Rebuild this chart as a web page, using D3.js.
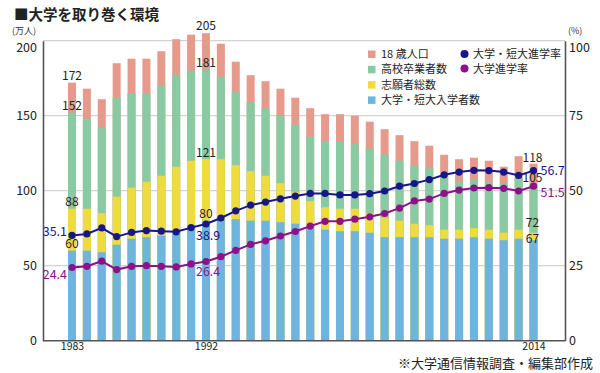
<!DOCTYPE html>
<html>
<head>
<meta charset="utf-8">
<script src="https://cdn.jsdelivr.net/npm/d3@7"></script>
<style>
  body { margin: 0; background: #fff; }
  svg { font-family: "Noto Sans CJK JP", "Noto Sans", sans-serif; }
</style>
</head>
<body>
<svg id="chart" width="600" height="373"></svg>
<script>
// data (万人 / %)
const years = d3.range(1983, 2015);
const pop18 = [172,168,161,185,188,188,193,201,204,205,
               198,186,177,173,168,162,155,151,151,150,146,
               141,137,133,130,124,121,122,120,116,123,118];
const grads = [152,148,142,162,165,165,170,177,180,181,
               176,166,159,155,150,144,136,133,133,131,128,
               124,120,117,115,110,106,107,106,105,109,105];
const applicants = [88,88,85,96,102,106,110,116,120,121,
                    121,117,113,110,105,99,93,89,88,88,85,
                    82,80,78,77,74,74,75,74,72,74,72];
const entrants = [60,60,59,64,68,69,70,73,77,80,
                  81,81,80,80,79,78,77,74,73,73,72,
                  69,69,69,69,68,68,69,68,67,68,67];
const rateUnivJc = [35.1,35.6,37.6,34.7,36.1,36.7,36.5,36.3,37.7,38.9,
                    40.9,43.3,45.2,46.2,47.3,48.2,49.1,49.1,48.6,48.6,49.0,
                    49.9,51.5,52.4,53.7,55.3,56.2,56.8,56.7,56.2,55.1,56.7];
const rateUniv = [24.4,24.8,26.5,23.7,24.8,25.0,24.8,24.6,25.6,26.4,
                  28.0,30.1,32.1,33.3,34.9,36.4,38.2,39.8,39.8,40.5,41.3,
                  42.4,44.2,46.6,47.2,49.1,50.2,50.9,51.0,50.8,49.9,51.5];
const leftTicks = [0, 50, 100, 150, 200];
const rightTicks = [0, 25, 50, 75, 100];
const xLabels = [1983, 1992, 2014];
const labelYears = [1983, 1992, 2014];

const barSeries = [
  { name: "18 歳人口", values: pop18, color: "#e69a8c" },
  { name: "高校卒業者数", values: grads, color: "#88cba2" },
  { name: "志願者総数", values: applicants, color: "#eedb3e" },
  { name: "大学・短大入学者数", values: entrants, color: "#6db5de" }
];
const lineSeries = [
  { name: "大学・短大進学率", values: rateUnivJc, color: "#17178a" },
  { name: "大学進学率", values: rateUniv, color: "#8c1289" }
];

const svg = d3.select("#chart");
const plotLeft = 43, plotRight = 565, plotTop = 40.7, plotBottom = 340.7;

const x = d3.scalePoint().domain(years).range([72, 533.5]);
const y = d3.scaleLinear().domain([0, 200]).range([plotBottom, plotTop]);
const yR = d3.scaleLinear().domain([0, 100]).range([plotBottom, plotTop]);
const barW = 8;

// title
svg.append("text")
  .attr("x", 14).attr("y", 19.5)
  .attr("font-size", 14.5).attr("font-weight", "bold").attr("fill", "#222")
  .text("■大学を取り巻く環境");
svg.append("text")
  .attr("x", 12).attr("y", 34).attr("font-size", 9).attr("fill", "#333")
  .text("(万人)");
svg.append("text")
  .attr("x", 568).attr("y", 34).attr("font-size", 9).attr("fill", "#333")
  .text("(%)");

// gridlines
svg.append("g")
  .selectAll("line")
  .data(leftTicks.filter(d => d > 0))
  .join("line")
  .attr("x1", plotLeft).attr("x2", plotRight)
  .attr("y1", d => y(d)).attr("y2", d => y(d))
  .attr("stroke", "#d3d3d3").attr("stroke-width", 1.3);

// bars, drawn back to front
barSeries.forEach(s => {
  svg.append("g")
    .selectAll("rect")
    .data(years)
    .join("rect")
    .attr("x", d => x(d) - barW / 2)
    .attr("width", barW)
    .attr("y", (d, i) => y(s.values[i]))
    .attr("height", (d, i) => plotBottom - y(s.values[i]))
    .attr("fill", s.color);
});

// axes
const axL = svg.append("g").attr("transform", `translate(${plotLeft},0)`)
  .call(d3.axisLeft(y).tickValues(leftTicks).tickSize(0).tickPadding(6));
const axR = svg.append("g").attr("transform", `translate(${plotRight},0)`)
  .call(d3.axisRight(yR).tickValues(rightTicks).tickSize(0).tickPadding(4));
const axB = svg.append("g").attr("transform", `translate(0,${plotBottom})`)
  .call(d3.axisBottom(x).tickValues(xLabels).tickSize(0).tickPadding(2));
[axL, axR, axB].forEach(a => {
  a.select(".domain").attr("stroke", "#555").attr("stroke-width", 1.6);
  a.selectAll("text").attr("font-size", 12.5).attr("fill", "#222")
    .attr("font-family", "'Noto Sans CJK JP', sans-serif");
});
axB.select(".domain").attr("d", `M${plotLeft},0H${plotRight}`);
axB.selectAll("text").attr("font-size", 10.5);
axL.selectAll(".tick").filter(d => d === 200).select("text").attr("dy", "0.85em");
axR.selectAll(".tick").filter(d => d === 100).select("text").attr("dy", "0.85em");

// rate lines
const line = d3.line().x((d, i) => x(years[i])).y(d => yR(d));
lineSeries.forEach(s => {
  svg.append("path")
    .datum(s.values)
    .attr("d", line)
    .attr("fill", "none")
    .attr("stroke", s.color)
    .attr("stroke-width", 2);
  svg.append("g")
    .selectAll("circle")
    .data(s.values)
    .join("circle")
    .attr("cx", (d, i) => x(years[i]))
    .attr("cy", d => yR(d))
    .attr("r", 3.6)
    .attr("fill", s.color);
});

// value labels on bars
const barLabelDy = { 1983: [-3, -3, -3, -3], 1992: [-3, -2, -2, -3], 2014: [-2, -1, -5.5, 2.5] };
labelYears.forEach(yr => {
  const i = years.indexOf(yr);
  barSeries.forEach((s, k) => {
    svg.append("text")
      .attr("x", x(yr) - (yr === 2014 ? 1 : 0))
      .attr("y", y(s.values[i]) + barLabelDy[yr][k])
      .attr("text-anchor", "middle")
      .attr("font-size", 12).attr("fill", "#222")
      .text(s.values[i]);
  });
});

// rate labels
const rateLabelPos = {
  1983: { dx: -5, dy: [1, 11], anchor: "end" },
  1992: { dx: -10, dy: [16, 14.5], anchor: "start" },
  2014: { dx: 7, dy: [4.5, 11], anchor: "start" }
};
labelYears.forEach(yr => {
  const i = years.indexOf(yr);
  const p = rateLabelPos[yr];
  lineSeries.forEach((s, k) => {
    svg.append("text")
      .attr("x", x(yr) + p.dx)
      .attr("y", yR(s.values[i]) + p.dy[k])
      .attr("text-anchor", p.anchor)
      .attr("font-size", 12.5).attr("fill", s.color)
      .text(s.values[i].toFixed(1));
  });
});

// legend
const lg = svg.append("g").attr("font-size", 11).attr("fill", "#222");
barSeries.forEach((s, k) => {
  lg.append("rect").attr("x", 368).attr("y", 50.5 + k * 15.3)
    .attr("width", 7.5).attr("height", 7.5).attr("fill", s.color);
  lg.append("text").attr("x", 381).attr("y", 58 + k * 15.3).text(s.name);
});
lineSeries.forEach((s, k) => {
  lg.append("circle").attr("cx", 464.5).attr("cy", 54 + k * 14.5)
    .attr("r", 4).attr("fill", s.color);
  lg.append("text").attr("x", 473).attr("y", 58 + k * 14.5).text(s.name);
});

// source note
svg.append("text")
  .attr("x", 593).attr("y", 368).attr("text-anchor", "end")
  .attr("font-size", 13).attr("fill", "#222")
  .text("※大学通信情報調査・編集部作成");
</script>
</body>
</html>
